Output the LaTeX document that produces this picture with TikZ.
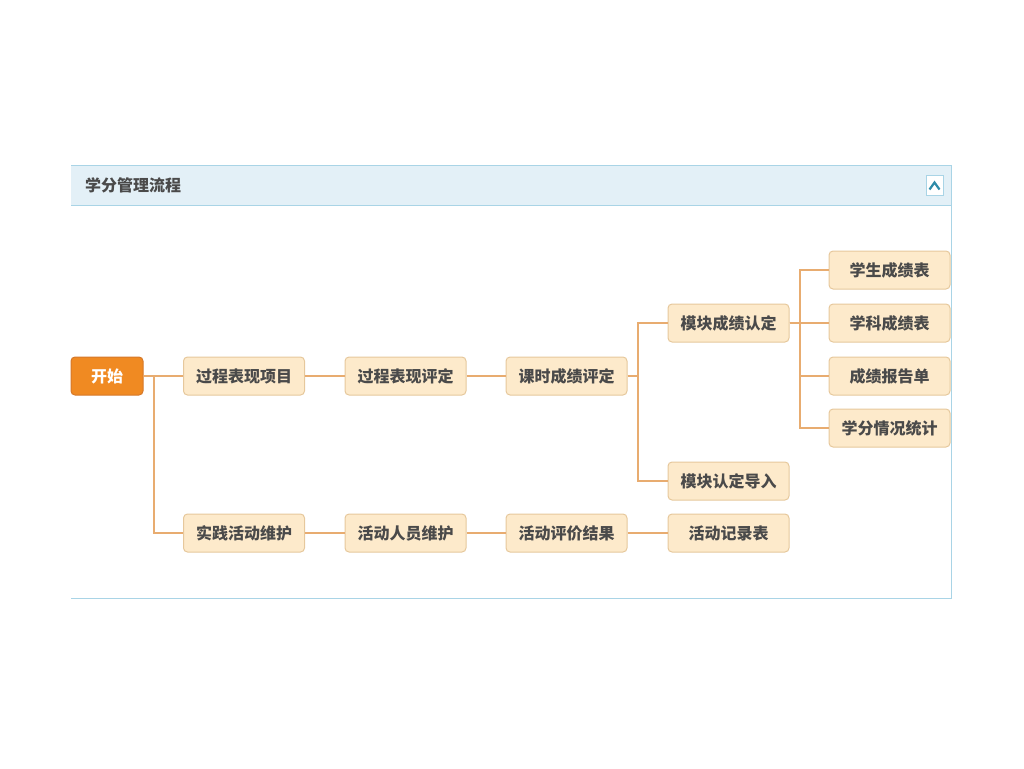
\documentclass[tikz,border=0pt]{standalone}
\usepackage{fontspec}
\newfontfamily\cjk{Noto Sans CJK SC}
\definecolor{headfill}{HTML}{E3F0F7}
\definecolor{panelblue}{HTML}{A9D4E6}
\definecolor{boxfill}{HTML}{FDEACB}
\definecolor{boxline}{HTML}{E6C89C}
\definecolor{linkcol}{HTML}{E8AC70}
\definecolor{startfill}{HTML}{F08A22}
\definecolor{startline}{HTML}{D5782A}
\definecolor{txt}{HTML}{4A4A4A}
\definecolor{caretcol}{HTML}{2E8BA8}

\tikzstyle{stepbox} = [rectangle,rounded corners=4pt,draw=boxline,fill=boxfill,line width=1pt,
  minimum width=121pt,minimum height=38pt,inner sep=0pt,text=txt,font=\cjk\bfseries\fontsize{16}{19}\selectfont]
\tikzstyle{startbox} = [stepbox,fill=startfill,draw=startline,minimum width=72pt,text=white]
\tikzstyle{link} = [draw=linkcol,line width=2pt]
\tikzstyle{panelline} = [draw=panelblue,line width=1pt]

\begin{document}
\begin{tikzpicture}[x=1pt,y=-1pt]
      \useasboundingbox (0,0) rectangle (1024,768);
      %panel
      \fill[headfill] (71,165) rectangle (951,205);
      \draw[panelline] (71,165) -- (951,165) -- (951,598) -- (71,598);
      \draw[panelline] (71,205) -- (951,205);
      \node[anchor=west,inner sep=0pt,text=txt,font=\cjk\bfseries\fontsize{16}{19}\selectfont] (title) at (85,185) {学分管理流程};
      \node[rectangle,draw=panelblue,fill=white,line width=1pt,minimum width=17pt,minimum height=20pt] (toggle) at (934.5,185.5) {};
      \draw[caretcol,line width=2.2pt] (929.5,189.5) -- (934.5,182.5) -- (939.5,189.5);
      %nodes
      \node[startbox] (start) at (107,376) {开始};
      \foreach \nodename/\x/\y/\label in {
        p1/244/376/过程表现项目,
        p2/405.5/376/过程表现评定,
        p3/566.5/376/课时成绩评定,
        m1/728.5/323/模块成绩认定,
        m2/728.5/481/模块认定导入,
        r1/889.5/270/学生成绩表,
        r2/889.5/323/学科成绩表,
        r3/889.5/376/成绩报告单,
        r4/889.5/428/学分情况统计,
        a1/244/533/实践活动维护,
        a2/405.5/533/活动人员维护,
        a3/566.5/533/活动评价结果,
        a4/728.5/533/活动记录表}
      {
        \node[stepbox] (\nodename) at (\x,\y) {\label};
      };
      %edges
      \foreach \startnode/\endnode in {
        start/p1, start/a1, p1/p2, p2/p3, p3/m1, p3/m2,
        m1/r1, m1/r2, m1/r3, m1/r4, a1/a2, a2/a3, a3/a4}
      {
        \draw[link] (\startnode.east) -- ++(10,0) |- (\endnode.west);
      };
\end{tikzpicture}
\end{document}
